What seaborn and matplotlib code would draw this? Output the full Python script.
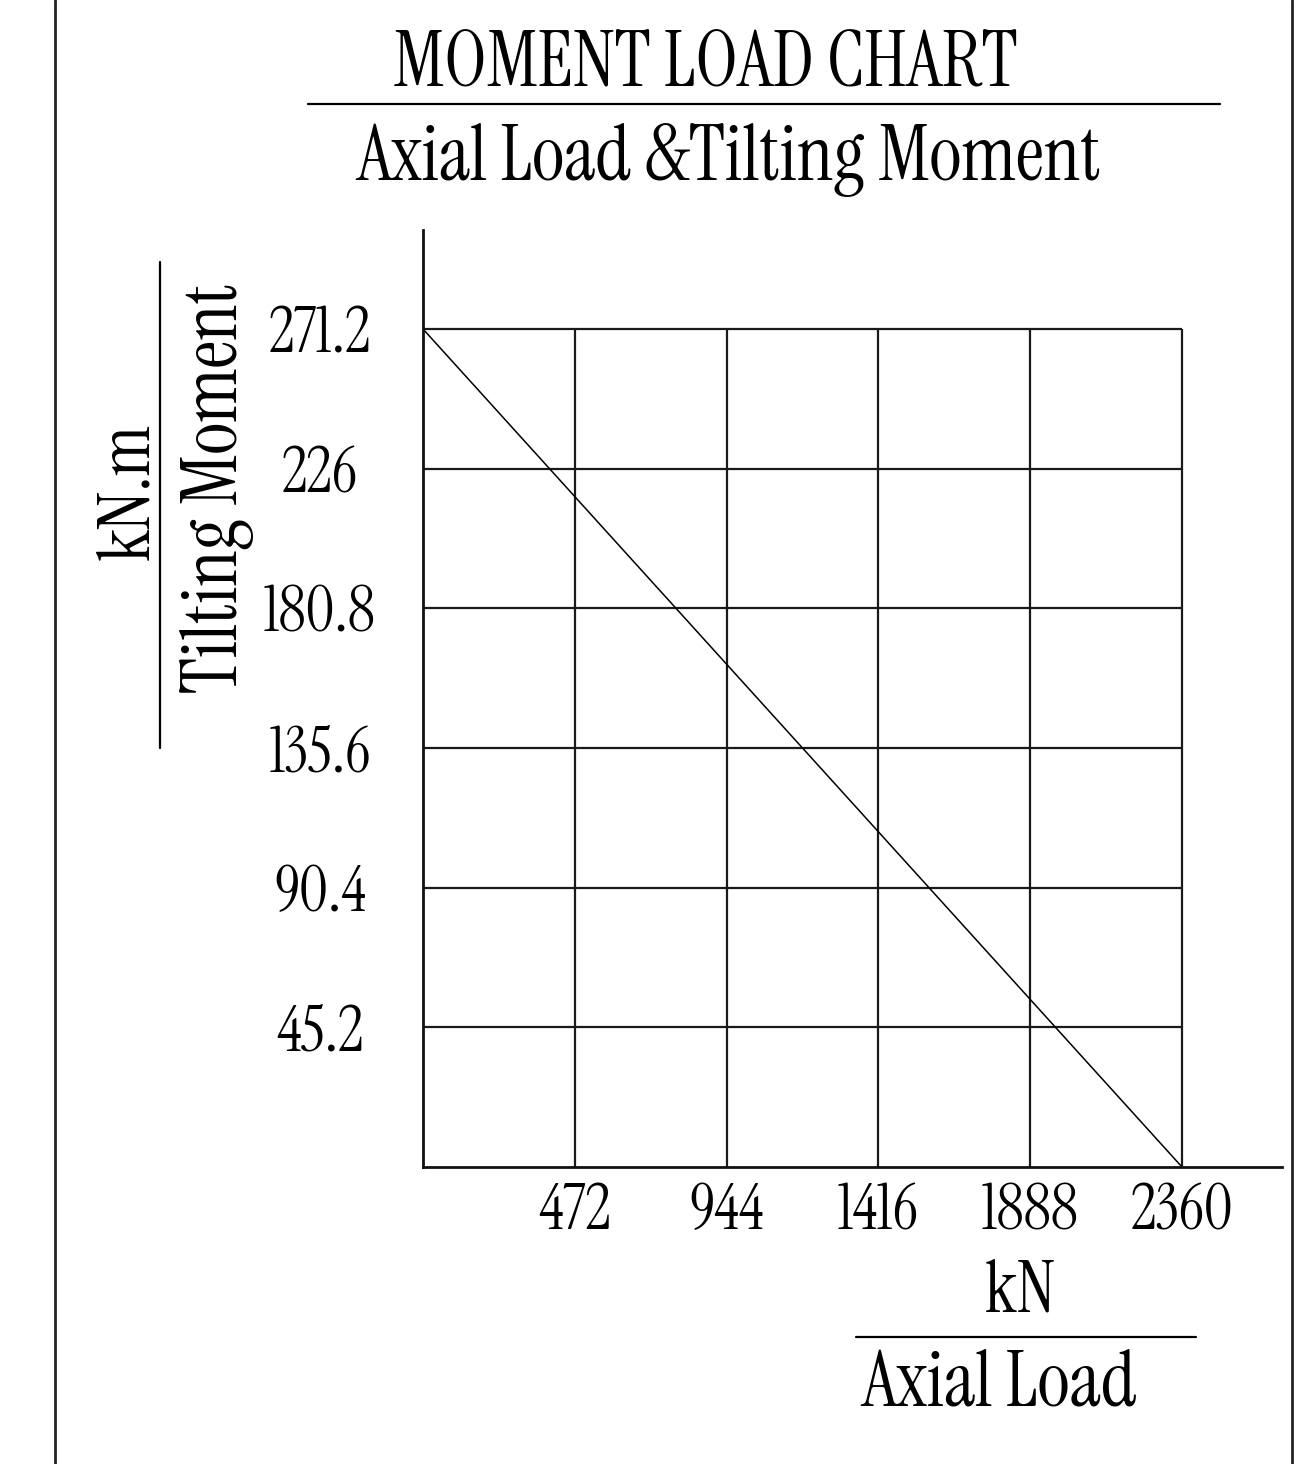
import matplotlib
matplotlib.use("Agg")
import matplotlib.pyplot as plt
from matplotlib.lines import Line2D
import seaborn as sns
import pandas as pd

# ---- data ----
x_ticks = [472, 944, 1416, 1888, 2360]
x_labels = ["472", "944", "1416", "1888", "2360"]
y_ticks = [45.2, 90.4, 135.6, 180.8, 226, 271.2]
y_labels = ["45.2", "90.4", "135.6", "180.8", "226", "271.2"]
axial_load = [0, 2360]
tilting_moment = [271.2, 0]

title = "MOMENT LOAD CHART"
subtitle = "Axial Load &Tilting Moment"
x_unit = "kN"
x_name = "Axial Load"
y_unit = "kN.m"
y_name = "Tilting Moment"

sns.set_theme(style="white")
FAM = ["Instrument Serif", "DejaVu Serif"]
plt.rcParams["font.family"] = FAM

W, H = 1303, 1464
fig = plt.figure(figsize=(W / 100, H / 100), dpi=100)
fig.patch.set_facecolor("white")
renderer = fig.canvas.get_renderer()

def fx(px):
    return px / W

def fy(py):
    return 1 - py / H

def fit(t, target, vertical=False):
    for _ in range(3):
        bb = t.get_window_extent(renderer)
        dim = bb.height if vertical else bb.width
        t.set_fontsize(t.get_fontsize() * target / dim)
    return t

# axes: x=0 at px 423, x=2360 at px 1182, right end 1282; y=0 at px 1167, 271.2 at 329, top 230
ax = fig.add_axes([fx(423), fy(1167), fx(1282) - fx(423), fy(230) - fy(1167)])
xmax = 2360 * (1282 - 423) / (1182 - 423)
ymax = 271.2 * (1167 - 230) / (1167 - 329)
ax.set_xlim(0, xmax)
ax.set_ylim(0, ymax)
ax.set_facecolor("white")

# grid limited to data range
ax.vlines(x_ticks, 0, max(y_ticks), color="#1a1a1a", lw=1.6, zorder=1)
ax.hlines(y_ticks, 0, max(x_ticks), color="#1a1a1a", lw=1.6, zorder=1)

df = pd.DataFrame({"load": axial_load, "moment": tilting_moment})
sns.lineplot(data=df, x="load", y="moment", ax=ax, color="black", lw=1.1, zorder=2)

for s in ["top", "right"]:
    ax.spines[s].set_visible(False)
for s in ["left", "bottom"]:
    ax.spines[s].set_color("#111111")
    ax.spines[s].set_linewidth(2.0)

# tick label size fitted to the width of "271.2" (~104 px)
probe = fig.text(0, 0, "271.2", fontsize=40, family=FAM)
fit(probe, 102)
tick_fs = probe.get_fontsize()
probe.remove()

ax.set_xticks(x_ticks)
ax.set_xticklabels(x_labels, fontsize=tick_fs, family=FAM, color="black")
ax.set_yticks(y_ticks)
ax.set_yticklabels(y_labels, fontsize=tick_fs, family=FAM, color="black")
ax.tick_params(axis="both", length=0)
ax.tick_params(axis="x", pad=(1212 - 1167) * 0.72)
ax.tick_params(axis="y", pad=(423 - 320) * 0.72)
for lab in ax.get_xticklabels():
    lab.set_va("center")
for lab in ax.get_yticklabels():
    lab.set_ha("center")
ax.set_xlabel("")
ax.set_ylabel("")

# titles
t = fig.text(fx(705.5), fy(85), title, ha="center", va="baseline", fontsize=50, color="black", family=FAM)
fit(t, 625)
fig.add_artist(Line2D([fx(308), fx(1220)], [fy(104), fy(104)], color="black", lw=1.6))
t = fig.text(fx(728.5), fy(180), subtitle, ha="center", va="baseline", fontsize=50, color="black", family=FAM)
fit(t, 743)

# x axis label
t = fig.text(fx(1020), fy(1312), x_unit, ha="center", va="baseline", fontsize=50, color="black", family=FAM)
fit(t, 70)
fig.add_artist(Line2D([fx(856), fx(1196)], [fy(1337), fy(1337)], color="black", lw=1.6))
t = fig.text(fx(999.5), fy(1405), x_name, ha="center", va="baseline", fontsize=50, color="black", family=FAM)
fit(t, 275)

# y axis label
t = fig.text(fx(148), fy(491), y_unit, ha="center", va="baseline", rotation=90, rotation_mode="anchor",
             fontsize=50, color="black", family=FAM)
fit(t, 137, vertical=True)
fig.add_artist(Line2D([fx(160), fx(160)], [fy(262), fy(748)], color="black", lw=1.6))
t = fig.text(fx(237), fy(488), y_name, ha="center", va="baseline", rotation=90, rotation_mode="anchor",
             fontsize=50, color="black", family=FAM)
fit(t, 410, vertical=True)

# page borders
fig.add_artist(Line2D([fx(55), fx(55)], [0, 1], color="#222222", lw=2.0))
fig.add_artist(Line2D([fx(1292), fx(1292)], [0, 1], color="#222222", lw=2.0))

fig.savefig("out.png", dpi=100, facecolor="white")
